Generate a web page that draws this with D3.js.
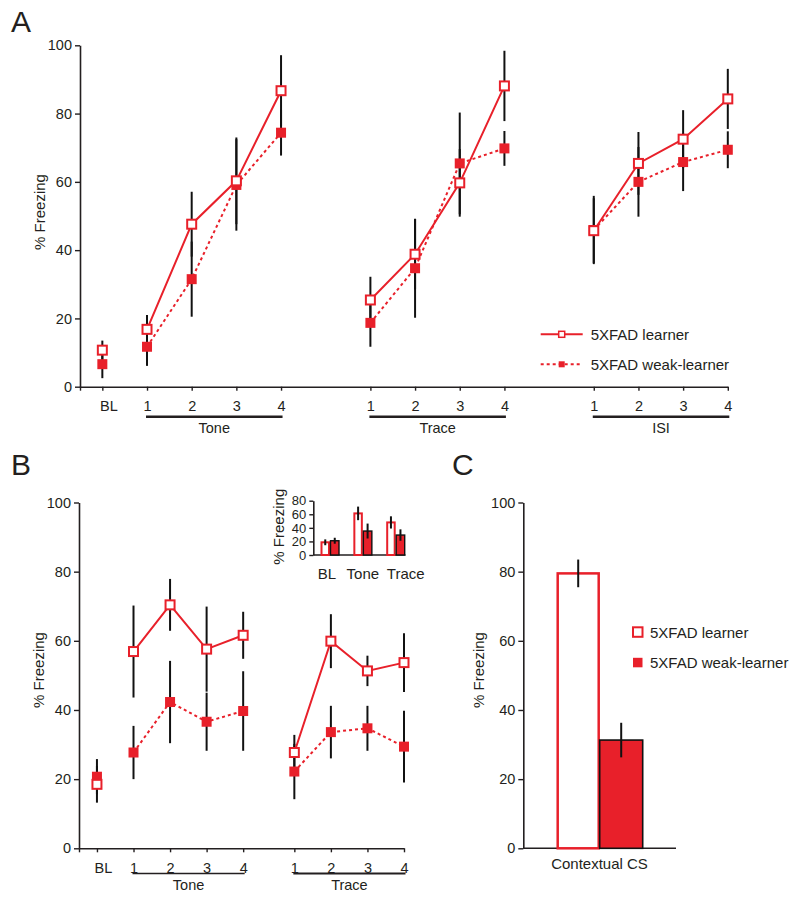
<!DOCTYPE html>
<html>
<head>
<meta charset="utf-8">
<script src="https://cdn.jsdelivr.net/npm/d3@7"></script>
<style>
  html, body { margin: 0; padding: 0; background: #fff; }
  svg { display: block; font-family: "Liberation Sans", Arial, Helvetica, sans-serif; }
  text { fill: #231f20; }
</style>
</head>
<body>
<svg id="chart" width="800" height="897"></svg>
<script>
// ---------------- DATA ----------------
// Panel A
const catsA = ["BL", "1", "2", "3", "4", "1", "2", "3", "4", "1", "2", "3", "4"];
const posA = [0, 1, 2, 3, 4, 6, 7, 8, 9, 11, 12, 13, 14];
const groupA = ["BL", "Tone", "Tone", "Tone", "Tone", "Trace", "Trace", "Trace", "Trace", "ISI", "ISI", "ISI", "ISI"];
const learnerA = [10.7, 16.8, 47.6, 60.3, 86.7, 25.4, 38.8, 59.7, 88.1, 45.7, 65.4, 72.5, 84.3];
const learnerAErr = [2.8, 4.2, 9.5, 12.7, 10.4, 6.8, 10.3, 9.9, 10.3, 9.5, 9.2, 8.5, 8.8];
const weakA = [6.6, 11.7, 31.5, 59.1, 74.4, 18.7, 34.7, 65.4, 69.8, 45.9, 60.0, 65.8, 69.4];
const weakAErr = [4.1, 5.6, 11.0, 13.4, 6.7, 7.0, 14.5, 14.9, 5.1, 10.0, 10.2, 8.5, 5.4];

// Panel B
const catsB = ["BL", "1", "2", "3", "4", "1", "2", "3", "4"];
const posB = [0, 1, 2, 3, 4, 5.4, 6.4, 7.4, 8.4];
const groupB = ["BL", "Tone", "Tone", "Tone", "Tone", "Trace", "Trace", "Trace", "Trace"];
const learnerB = [18.5, 56.9, 70.4, 57.6, 61.6, 27.7, 59.9, 51.3, 53.7];
const learnerBErr = [5.3, 13.3, 7.5, 12.3, 6.8, 5.1, 7.8, 4.4, 8.5];
const weakB = [20.7, 27.7, 42.3, 36.6, 39.7, 22.2, 33.6, 34.7, 29.4];
const weakBErr = [5.1, 7.7, 11.9, 8.4, 11.5, 8.0, 7.6, 6.5, 10.4];

// Inset of panel B
const insetCats = ["BL", "Tone", "Trace"];
const insetLearner = [18.7, 61.3, 48.0];
const insetLearnerErr = [4.3, 10.0, 9.0];
const insetWeak = [21.0, 35.3, 29.4];
const insetWeakErr = [4.4, 11.0, 8.4];
const insetTicks = [0, 20, 40, 60, 80];

// Panel C
const catsC = ["5XFAD learner", "5XFAD weak-learner"];
const valuesC = [79.5, 31.3];
const errC = [4.0, 5.0];

const yTicks = [0, 20, 40, 60, 80, 100];
const seriesNames = ["5XFAD learner", "5XFAD weak-learner"];

// ---------------- STYLE ----------------
const RED = "#e8202a";
const INK = "#231f20";
const svg = d3.select("#chart");

function styleAxis(g, width) {
  g.selectAll("path.domain").attr("stroke", INK).attr("stroke-width", width || 1.6);
  g.selectAll(".tick line").attr("stroke", INK).attr("stroke-width", 1.4);
  g.selectAll(".tick text").attr("fill", INK).style("font-size", "14.5px")
    .style("font-family", '"Liberation Sans", Arial, sans-serif');
}

function panelLabel(txt, x, y) {
  svg.append("text").attr("x", x).attr("y", y).text(txt)
    .style("font-size", "30px").attr("fill", INK);
}

function yTitle(x, y, size) {
  svg.append("text")
    .attr("transform", `translate(${x},${y}) rotate(-90)`)
    .attr("text-anchor", "middle").attr("dy", "0.35em")
    .style("font-size", (size || 15) + "px")
    .text("% Freezing");
}

function linePanel(cfg) {
  const { x, y, cats, pos, groups, learner, learnerErr, weak, weakErr, underlines, cornerPos } = cfg;
  const g = svg.append("g");
  // y axis
  const ya = g.append("g").attr("transform", `translate(${x.range()[0]},0)`)
    .call(d3.axisLeft(y).tickValues(yTicks).tickSize(5).tickSizeOuter(0).tickPadding(3));
  styleAxis(ya);
  // x axis
  const labelByPos = new Map(pos.map((p, i) => [p, cats[i]]));
  const xa = g.append("g").attr("transform", `translate(0,${y(0)})`)
    .call(d3.axisBottom(x).tickValues([cornerPos, ...pos]).tickSize(4).tickSizeOuter(0).tickPadding(10)
      .tickFormat(d => labelByPos.has(d) ? labelByPos.get(d) : ""));
  styleAxis(xa);
  xa.selectAll(".tick text").filter(d => labelByPos.get(d) === "BL").attr("dx", 6);

  // group underlines + labels
  underlines.forEach(u => {
    const idx = groups.map((gname, i) => gname === u.name ? i : -1).filter(i => i >= 0);
    const x0 = x(pos[idx[0]]) - 1, x1 = x(pos[idx[idx.length - 1]]) + 1.5;
    g.append("line").attr("x1", x0).attr("x2", x1).attr("y1", u.y).attr("y2", u.y)
      .attr("stroke", INK).attr("stroke-width", u.w);
    g.append("text").attr("x", (x0 + x1) / 2).attr("y", u.y + 11).attr("dy", "0.35em")
      .attr("text-anchor", "middle").style("font-size", "14.5px").text(u.name);
  });

  // error bars
  const errData = [];
  learner.forEach((v, i) => errData.push({ p: pos[i], v, e: learnerErr[i] }));
  weak.forEach((v, i) => errData.push({ p: pos[i], v, e: weakErr[i] }));
  g.append("g").selectAll("line").data(errData).join("line")
    .attr("x1", d => x(d.p)).attr("x2", d => x(d.p))
    .attr("y1", d => y(d.v - d.e)).attr("y2", d => y(d.v + d.e))
    .attr("stroke", "#111").attr("stroke-width", 2);

  // lines per group (BL not connected)
  const groupNames = Array.from(new Set(groups)).filter(n => n !== "BL");
  const line = d3.line().x(d => x(d.p)).y(d => y(d.v));
  groupNames.forEach(gn => {
    const idx = groups.map((gname, i) => gname === gn ? i : -1).filter(i => i >= 0);
    g.append("path").datum(idx.map(i => ({ p: pos[i], v: weak[i] })))
      .attr("d", line).attr("fill", "none").attr("stroke", RED)
      .attr("stroke-width", 2).attr("stroke-dasharray", "3,3");
    g.append("path").datum(idx.map(i => ({ p: pos[i], v: learner[i] })))
      .attr("d", line).attr("fill", "none").attr("stroke", RED).attr("stroke-width", 2);
  });

  // markers
  const s = 9;
  g.append("g").selectAll("rect").data(weak.map((v, i) => ({ p: pos[i], v }))).join("rect")
    .attr("x", d => x(d.p) - s / 2 - 0.5).attr("y", d => y(d.v) - s / 2 - 0.5)
    .attr("width", s + 1).attr("height", s + 1).attr("fill", RED);
  g.append("g").selectAll("rect").data(learner.map((v, i) => ({ p: pos[i], v }))).join("rect")
    .attr("x", d => x(d.p) - s / 2).attr("y", d => y(d.v) - s / 2)
    .attr("width", s).attr("height", s).attr("fill", "#fff").attr("stroke", RED).attr("stroke-width", 2);
  return g;
}

// ---------------- PANEL A ----------------
const xA = d3.scaleLinear().domain([-0.5, 14]).range([80, 727.8]);
const yA = d3.scaleLinear().domain([0, 100]).range([386.7, 45.3]);
linePanel({
  x: xA, y: yA, cats: catsA, pos: posA, groups: groupA,
  learner: learnerA, learnerErr: learnerAErr, weak: weakA, weakErr: weakAErr,
  cornerPos: -0.5,
  underlines: [
    { name: "Tone", y: 416.7, w: 2.5 },
    { name: "Trace", y: 416.7, w: 2.5 },
    { name: "ISI", y: 416.7, w: 2.5 }
  ]
});
panelLabel("A", 11, 32);
yTitle(39.5, 212);

// legend A
const legA = svg.append("g");
[0, 1].forEach(i => {
  const ly = 334.3 + i * 30;
  legA.append("line").attr("x1", 540.7).attr("x2", 582.7).attr("y1", ly).attr("y2", ly)
    .attr("stroke", RED).attr("stroke-width", 2).attr("stroke-dasharray", i ? "3,3" : null);
  legA.append("rect").attr("x", 561.7 - 3).attr("y", ly - 3).attr("width", 6).attr("height", 6)
    .attr("fill", i ? RED : "#fff").attr("stroke", RED).attr("stroke-width", i ? 0 : 1.5);
  legA.append("text").attr("x", 590.7).attr("y", ly).attr("dy", "0.35em")
    .style("font-size", "15px").text(seriesNames[i]);
});

// ---------------- PANEL B ----------------
const unitB = 36.55;
const xB = d3.scaleLinear().domain([1 - (133.5 - 79) / unitB, 8.4]).range([79, 404]);
const yB = d3.scaleLinear().domain([0, 100]).range([848.3, 502.5]);
linePanel({
  x: xB, y: yB, cats: catsB, pos: posB, groups: groupB,
  learner: learnerB, learnerErr: learnerBErr, weak: weakB, weakErr: weakBErr,
  cornerPos: xB.domain()[0],
  underlines: [
    { name: "Tone", y: 873.5, w: 1.5 },
    { name: "Trace", y: 873.5, w: 2.2 }
  ]
});
panelLabel("B", 11, 475);
yTitle(38.5, 670);

// inset
const yI = d3.scaleLinear().domain([0, 80]).range([555, 500.7]);
const xI = d3.scalePoint().domain(insetCats).range([330, 395.7]);
const subI = d3.scaleBand().domain(seriesNames).range([-9.5, 9.5]);
const insetLabelShift = [-3, 0, 10];
const inset = svg.append("g");
const yIa = inset.append("g").attr("transform", "translate(313.3,0)")
  .call(d3.axisLeft(yI).tickValues(insetTicks).tickSize(4).tickSizeOuter(0).tickPadding(3));
styleAxis(yIa);
yIa.selectAll(".tick text").style("font-size", "13px");
inset.append("line").attr("x1", 313.3).attr("x2", 405.5).attr("y1", yI(0)).attr("y2", yI(0))
  .attr("stroke", INK).attr("stroke-width", 1.6);
inset.selectAll("text.xl").data(insetCats).join("text").attr("class", "xl")
  .attr("x", (d, i) => xI(d) + insetLabelShift[i]).attr("y", 573.3).attr("dy", "0.35em").attr("text-anchor", "middle")
  .style("font-size", "15px").text(d => d);
const insetBars = [];
insetCats.forEach((c, i) => {
  insetBars.push({ c, s: seriesNames[0], v: insetLearner[i], e: insetLearnerErr[i] });
  insetBars.push({ c, s: seriesNames[1], v: insetWeak[i], e: insetWeakErr[i] });
});
inset.selectAll("rect").data(insetBars).join("rect")
  .attr("x", d => xI(d.c) + subI(d.s) + (d.s === seriesNames[0] ? 1 : 0.5))
  .attr("y", d => yI(d.v))
  .attr("width", d => subI.bandwidth() - (d.s === seriesNames[0] ? 2 : 1))
  .attr("height", d => yI(0) - yI(d.v))
  .attr("fill", d => d.s === seriesNames[0] ? "#fff" : RED)
  .attr("stroke", d => d.s === seriesNames[0] ? RED : "#111")
  .attr("stroke-width", d => d.s === seriesNames[0] ? 2 : 1.4);
inset.selectAll("line.err").data(insetBars).join("line").attr("class", "err")
  .attr("x1", d => xI(d.c) + subI(d.s) + subI.bandwidth() / 2)
  .attr("x2", d => xI(d.c) + subI(d.s) + subI.bandwidth() / 2)
  .attr("y1", d => yI(d.v - d.e)).attr("y2", d => yI(d.v + d.e))
  .attr("stroke", "#111").attr("stroke-width", 2);
yTitle(279, 526.7, 15);

// ---------------- PANEL C ----------------
const yC = d3.scaleLinear().domain([0, 100]).range([848.3, 502.5]);
const xC = d3.scaleBand().domain(catsC).range([556.7, 642.7]);
const gC = svg.append("g");
const yCa = gC.append("g").attr("transform", "translate(523.3,0)")
  .call(d3.axisLeft(yC).tickValues(yTicks).tickSize(5).tickSizeOuter(0).tickPadding(3));
styleAxis(yCa);
gC.append("line").attr("x1", 523.3).attr("x2", 676).attr("y1", yC(0)).attr("y2", yC(0))
  .attr("stroke", INK).attr("stroke-width", 1.6);
gC.selectAll("rect.bar").data(catsC).join("rect").attr("class", "bar")
  .attr("x", (d, i) => xC(d) + (i === 0 ? 1 : 0))
  .attr("y", (d, i) => yC(valuesC[i]))
  .attr("width", (d, i) => xC.bandwidth() - (i === 0 ? 2 : 0))
  .attr("height", (d, i) => yC(0) - yC(valuesC[i]))
  .attr("fill", (d, i) => i === 0 ? "#fff" : RED)
  .attr("stroke", (d, i) => i === 0 ? RED : "#111")
  .attr("stroke-width", (d, i) => i === 0 ? 2.5 : 1.6);
gC.selectAll("line.err").data(catsC).join("line").attr("class", "err")
  .attr("x1", d => xC(d) + xC.bandwidth() / 2).attr("x2", d => xC(d) + xC.bandwidth() / 2)
  .attr("y1", (d, i) => yC(valuesC[i] - errC[i])).attr("y2", (d, i) => yC(valuesC[i] + errC[i]))
  .attr("stroke", "#111").attr("stroke-width", 2);
gC.append("text").attr("x", 599.5).attr("y", 863.3).attr("dy", "0.35em").attr("text-anchor", "middle")
  .style("font-size", "15px").text("Contextual CS");
panelLabel("C", 452, 475);
yTitle(478.5, 670);

// legend C
catsC.forEach((name, i) => {
  const ly = 632.3 + i * 30.5;
  gC.append("rect").attr("x", 633).attr("y", ly - 5).attr("width", 9.5).attr("height", 9.5)
    .attr("fill", i ? RED : "#fff").attr("stroke", RED).attr("stroke-width", i ? 0 : 2);
  gC.append("text").attr("x", 650).attr("y", ly).attr("dy", "0.35em")
    .style("font-size", "15px").text(name);
});
</script>
</body>
</html>
